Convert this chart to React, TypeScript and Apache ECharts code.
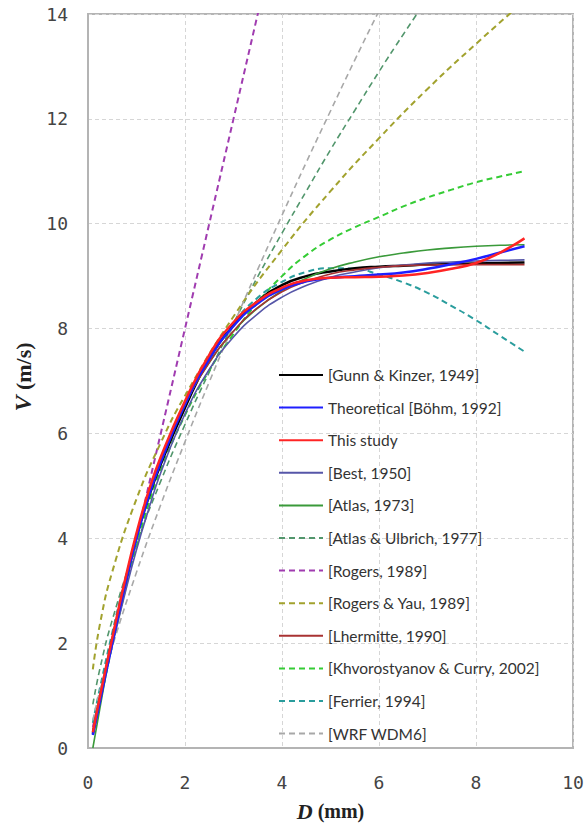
import React, { useEffect, useRef } from "react";
import * as echarts from "echarts";

// Drop diameters (mm) shared by the smooth fitted curves
const dFine = [0.1, 0.25, 0.5, 0.75, 1, 1.25, 1.5, 2, 2.5, 3, 3.5, 4, 4.5, 5, 5.5, 6, 6.5, 7, 7.5, 8, 8.5, 9];

// Terminal fall speeds (m/s) on dFine
const vGunnKinzer = [0.27, 0.95, 2.06, 3.07, 4.03, 4.78, 5.41, 6.49, 7.42, 8.06, 8.52, 8.83, 9.0, 9.09, 9.15, 9.18, 9.2, 9.22, 9.23, 9.24, 9.25, 9.26];
const vBohm = [0.25, 0.9, 2.0, 3.05, 4.0, 4.8, 5.45, 6.55, 7.42, 8.05, 8.48, 8.75, 8.9, 8.97, 9.0, 9.03, 9.07, 9.14, 9.23, 9.33, 9.45, 9.57];
const vThisStudy = [0.3, 1.0, 2.1, 3.15, 4.1, 4.9, 5.55, 6.62, 7.5, 8.12, 8.52, 8.78, 8.92, 8.97, 8.98, 8.99, 9.01, 9.06, 9.14, 9.25, 9.45, 9.72];
const vBest = [0.33, 0.95, 1.95, 2.9, 3.78, 4.55, 5.25, 6.37, 7.22, 7.84, 8.28, 8.6, 8.82, 8.98, 9.08, 9.16, 9.21, 9.25, 9.27, 9.29, 9.3, 9.31];
const vAtlas = [0.0, 0.78, 2.02, 3.08, 4.0, 4.78, 5.46, 6.55, 7.35, 7.95, 8.39, 8.72, 8.96, 9.14, 9.27, 9.37, 9.44, 9.5, 9.54, 9.57, 9.59, 9.6];
const vLhermitte = [0.3, 0.95, 2.05, 3.1, 4.05, 4.85, 5.5, 6.55, 7.35, 7.95, 8.4, 8.7, 8.9, 9.04, 9.12, 9.17, 9.2, 9.21, 9.22, 9.22, 9.22, 9.22];
const vKhvorostyanov = [0.3, 0.9, 1.95, 2.95, 3.85, 4.65, 5.3, 6.35, 7.2, 7.9, 8.5, 9.0, 9.4, 9.7, 9.93, 10.13, 10.33, 10.5, 10.65, 10.79, 10.9, 11.0];
const vFerrier = [0.48, 1.16, 2.2, 3.15, 4.0, 4.76, 5.44, 6.57, 7.45, 8.11, 8.59, 8.89, 9.08, 9.15, 9.14, 9.03, 8.88, 8.68, 8.43, 8.16, 7.86, 7.56];

// Power-law relations that leave the top of the plot
const dAtlasUlbrich = [0.1, 0.25, 0.5, 1, 1.5, 2, 2.5, 3, 3.5, 4, 4.5, 5, 5.5, 6, 6.5, 7];
const vAtlasUlbrich = [0.83, 1.53, 2.44, 3.88, 5.09, 6.17, 7.17, 8.1, 8.99, 9.82, 10.62, 11.41, 12.16, 12.9, 13.61, 14.3];

const dRogers = [0.1, 0.5, 1, 1.5, 2, 2.5, 3, 3.5, 3.6];
const vRogers = [0.4, 2, 4, 6, 8, 10, 12, 14, 14.4];

const dRogersYau = [0.1, 0.25, 0.5, 1, 1.5, 2, 3, 4, 5, 6, 7, 8, 9];
const vRogersYau = [1.5, 2.38, 3.36, 4.75, 5.82, 6.72, 8.23, 9.5, 10.62, 11.63, 12.57, 13.43, 14.25];

const dWdm6 = [0.1, 0.25, 0.5, 1, 1.5, 2, 2.5, 3, 3.5, 4, 4.5, 5, 5.5, 6, 6.5];
const vWdm6 = [0.53, 1.11, 1.93, 3.35, 4.64, 5.84, 6.98, 8.07, 9.13, 10.16, 11.17, 12.15, 13.12, 14.06, 14.98];

// Axis ticks
const xTicks = [0, 2, 4, 6, 8, 10];
const yTicks = [0, 2, 4, 6, 8, 10, 12, 14];

const pair = (d: number[], v: number[]) => d.map((x, i) => [x, v[i]]);

export default function App() {
  const ref = useRef<HTMLDivElement>(null);

  useEffect(() => {
    if (!ref.current) return;
    const chart = echarts.init(ref.current, undefined, { renderer: "svg" });

    const dash = [6, 4];
    const line = (
      name: string,
      d: number[],
      v: number[],
      color: string,
      width: number,
      dashed: boolean,
      z = 2
    ) => ({
      name,
      type: "line",
      data: pair(d, v),
      smooth: true,
      symbol: "none",
      showSymbol: false,
      clip: true,
      z,
      lineStyle: { color, width, type: dashed ? dash : "solid" },
      itemStyle: { color },
    });

    const series = [
      line("[Gunn & Kinzer, 1949]", dFine, vGunnKinzer, "#000000", 2.5, false, 3),
      line("Theoretical [Böhm, 1992]", dFine, vBohm, "#1f1fff", 2.5, false, 4),
      line("This study", dFine, vThisStudy, "#ff2424", 2.5, false, 5),
      line("[Best, 1950]", dFine, vBest, "#5656a8", 1.6, false, 3),
      line("[Atlas, 1973]", dFine, vAtlas, "#3a9a3a", 1.6, false, 3),
      line("[Atlas & Ulbrich, 1977]", dAtlasUlbrich, vAtlasUlbrich, "#52966c", 1.6, true),
      line("[Rogers, 1989]", dRogers, vRogers, "#a03cb0", 2, true),
      line("[Rogers & Yau, 1989]", dRogersYau, vRogersYau, "#a2a22e", 2, true),
      line("[Lhermitte, 1990]", dFine, vLhermitte, "#a83232", 1.6, false, 3),
      line("[Khvorostyanov & Curry, 2002]", dFine, vKhvorostyanov, "#35cc35", 2, true),
      line("[Ferrier, 1994]", dFine, vFerrier, "#2a9d9d", 2, true),
      line("[WRF WDM6]", dWdm6, vWdm6, "#a8a8a8", 1.6, true),
    ];

    const tickFont = {
      fontFamily: "DejaVu Sans Mono",
      fontSize: 18,
      color: "#444444",
    };

    chart.setOption({
      animation: false,
      backgroundColor: "#ffffff",
      grid: {
        left: 88,
        right: 15,
        top: 14,
        bottom: 72,
        show: true,
        borderColor: "#b4b4b4",
        borderWidth: 2,
        containLabel: false,
      },
      legend: {
        orient: "vertical",
        left: 278,
        top: 367,
        padding: 0,
        itemWidth: 44,
        itemHeight: 14,
        itemGap: 16.6,
        itemStyle: { opacity: 0 },
        textStyle: { fontFamily: "Lato", fontSize: 15.5, color: "#333333" },
        data: series.map((s) => s.name),
      },
      xAxis: {
        type: "value",
        min: xTicks[0],
        max: xTicks[xTicks.length - 1],
        interval: 2,
        name: "{i|D} (mm)",
        nameLocation: "middle",
        nameGap: 52,
        nameTextStyle: {
          fontFamily: "Liberation Serif",
          fontWeight: "bold",
          fontSize: 20,
          color: "#222222",
          rich: {
            i: {
              fontFamily: "Liberation Serif",
              fontStyle: "italic",
              fontWeight: "bold",
              fontSize: 22,
              color: "#222222",
            },
          },
        },
        axisLine: { show: true, lineStyle: { color: "#b4b4b4", width: 2 } },
        axisTick: { show: false },
        axisLabel: { ...tickFont, margin: 25 },
        splitLine: { show: true, lineStyle: { color: "#d6d6d6", type: [4, 3], width: 1 } },
      },
      yAxis: {
        type: "value",
        min: yTicks[0],
        max: yTicks[yTicks.length - 1],
        interval: 2,
        axisLine: { show: true, lineStyle: { color: "#b4b4b4", width: 2 } },
        axisTick: { show: false },
        axisLabel: { ...tickFont, margin: 20 },
        splitLine: { show: true, lineStyle: { color: "#d6d6d6", type: [4, 3], width: 1 } },
      },
      graphic: [
        {
          type: "text",
          x: 23,
          y: 377,
          rotation: Math.PI / 2,
          style: {
            text: "{i|V} (m/s)",
            align: "center",
            verticalAlign: "middle",
            fontFamily: "Liberation Serif",
            fontWeight: "bold",
            fontSize: 22,
            fill: "#222222",
            rich: {
              i: {
                fontFamily: "Liberation Serif",
                fontStyle: "italic",
                fontWeight: "bold",
                fontSize: 24,
                fill: "#222222",
              },
            },
          },
        },
      ],
      series,
    });

    return () => chart.dispose();
  }, []);

  return (
    <div
      ref={ref}
      style={{ position: "absolute", left: 0, top: 0, width: 588, height: 827 }}
    />
  );
}
